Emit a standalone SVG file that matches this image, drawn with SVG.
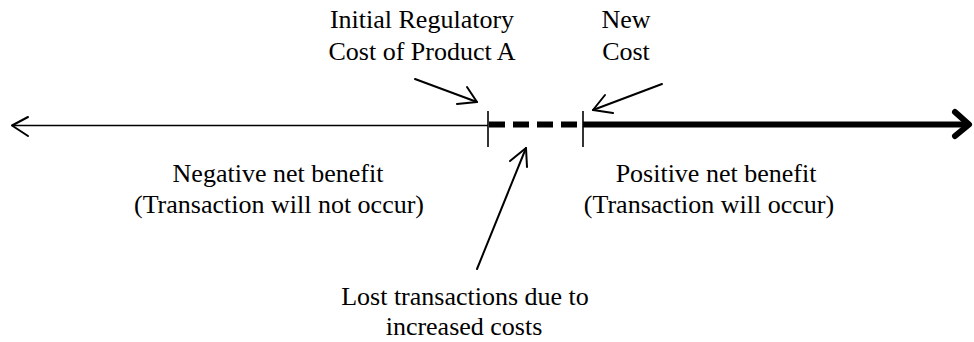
<svg xmlns="http://www.w3.org/2000/svg" width="974" height="342" viewBox="0 0 974 342">
<style>
text{font-family:"Liberation Serif","Times New Roman",serif;font-size:26px;fill:#000;text-anchor:middle}
.thin{stroke:#000;stroke-width:1.6;fill:none}
.ptr{stroke:#000;stroke-width:2;fill:none;stroke-linecap:round;stroke-linejoin:round}
.thick{stroke:#000;stroke-width:6;fill:none;stroke-linecap:butt}
</style>
<rect width="974" height="342" fill="#fff"/>
<g id="connectors">
  <line class="thin" x1="12" y1="125.5" x2="488" y2="125.5"/>
  <polyline class="ptr" points="28,117 12,125.5 28,136"/>
  <line class="thick" x1="489" y1="124.5" x2="580" y2="124.5" stroke-dasharray="16 8"/>
  <line class="thick" x1="583" y1="124.5" x2="968" y2="124.5"/>
  <polyline class="ptr" style="stroke-width:6" points="955,112 969,124.5 955,136"/>
  <line class="thin" x1="488" y1="111" x2="488" y2="147"/>
  <line class="thin" x1="583" y1="111" x2="583" y2="147"/>
  <line class="ptr" x1="415" y1="79" x2="477" y2="102"/>
  <polyline class="ptr" points="467,87 477,102 457,104"/>
  <line class="ptr" x1="662" y1="84" x2="593" y2="110"/>
  <polyline class="ptr" points="605,95 593,110 613,113"/>
  <line class="ptr" x1="477" y1="269" x2="526" y2="148"/>
  <polyline class="ptr" points="510,161 526,148 527,167"/>
</g>
<g id="initial-cost">
  <text x="422" y="28">Initial Regulatory</text>
  <text x="422" y="60">Cost of Product A</text>
</g>
<g id="new-cost">
  <text x="626" y="28">New</text>
  <text x="626" y="60">Cost</text>
</g>
<g id="negative">
  <text x="278" y="182">Negative net benefit</text>
  <text x="279" y="213">(Transaction will not occur)</text>
</g>
<g id="positive">
  <text x="716" y="182">Positive net benefit</text>
  <text x="709" y="213">(Transaction will occur)</text>
</g>
<g id="lost">
  <text x="465" y="305">Lost transactions due to</text>
  <text x="464" y="335">increased costs</text>
</g>
</svg>
